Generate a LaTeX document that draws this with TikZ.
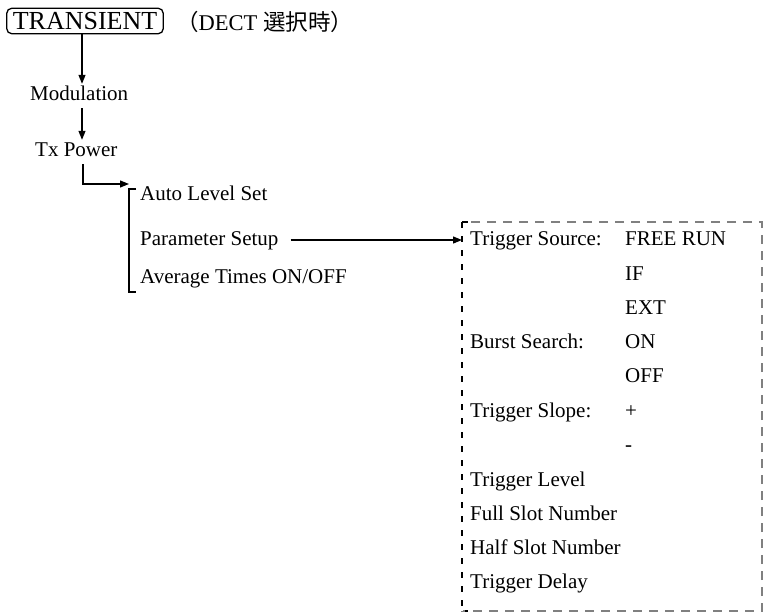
\documentclass[tikz,border=0pt]{standalone}
\usepackage{fontspec}
\setmainfont{Liberation Serif}
\newfontfamily\cjk{Noto Sans CJK JP}
\usetikzlibrary{arrows.meta}
\usetikzlibrary{positioning}

\begin{document}
\begin{tikzpicture}[x=1pt,y=-1pt,
    every node/.style={font=\fontsize{21}{25}\selectfont},
    item/.style={anchor=west,inner xsep=0pt,inner ysep=3pt,text height=14pt,text depth=4pt},
    arr/.style={-{Triangle[length=9pt,width=7pt]},line width=1.2pt}]
\useasboundingbox (0,0) rectangle (765,615);

\begin{scope}
    \node[draw,line width=1.3pt,rounded corners=5pt,inner xsep=6pt,inner ysep=4pt,
          font=\fontsize{26}{30}\selectfont] (tr) at (85,21) {TRANSIENT};
    \node[anchor=west,inner sep=0pt,font=\fontsize{22.5}{26}\selectfont] (dect) at (176,22)
        {{\cjk （}DECT {\cjk 選択時）}};
\end{scope}

\begin{scope}[every node/.append style={item}]
    \node (mod) at (30,96) {Modulation};
    \node (txp) at (35,152) {Tx Power};
    \node (als) at (140,195) {Auto Level Set};
    \node (ps) at (140,240) {Parameter Setup};
    \node (avg) at (140,278) {Average Times ON/OFF};
\end{scope}

% bracket of the Tx Power menu
\coordinate (b1) at (129,189);
\coordinate (b2) at (129,292);
\draw[line width=1.2pt] ([xshift=7pt]b1) -- (b1) -- (b2) -- ([xshift=7pt]b2);

% dashed box of the parameters
\coordinate (bx1) at (462,222);
\coordinate (bx2) at (762,611);
\draw[gray,line width=1.3pt,dash pattern=on 9pt off 7pt] (bx1) rectangle (bx2);
\draw[white,line width=2pt] (bx1) -- (bx1 |- bx2);
\draw[black,line width=1.2pt,dash pattern=on 6pt off 8pt] (bx1) -- ++(6,0) (bx1) -- (bx1 |- bx2) -- ++(6,0);

\begin{scope}[every node/.append style={item}]
    \foreach \n/\y/\t in {tsrc/240/Trigger Source:, bsrch/343/Burst Search:,
                          tslp/412/Trigger Slope:, tlvl/481/Trigger Level,
                          fslot/515/Full Slot Number, hslot/549/Half Slot Number,
                          tdly/583/Trigger Delay}
        \node (\n) at (470,\y) {\t};
    \foreach \n/\y/\t in {free/240/FREE RUN, if/275/IF, ext/309/EXT, on/343/ON,
                          off/377/OFF, plus/412/+, minus/446/-}
        \node (\n) at (625,\y) {\t};
\end{scope}

\begin{scope}[every path/.style={arr}]
    \draw (tr.south -| 82,0) -- (mod.north -| 82,0);
    \draw (mod.south -| 82,0) -- (txp.north -| 82,0);
    \draw (txp.south -| 83,0) |- ([yshift=5pt]b1);
    \draw ([xshift=12pt]ps.east) -- (ps.east -| bx1);
\end{scope}
\end{tikzpicture}
\end{document}
